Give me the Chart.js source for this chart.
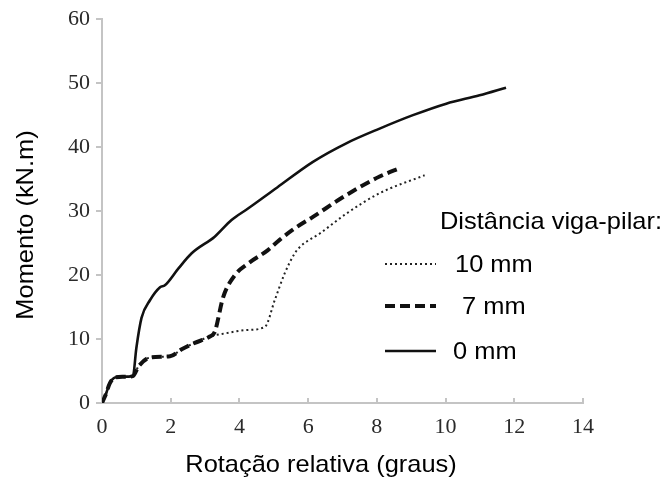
<!DOCTYPE html>
<html>
<head>
<meta charset="utf-8">
<script src="https://cdn.jsdelivr.net/npm/chart.js@4/dist/chart.umd.min.js"></script>
<style>
  html, body { margin: 0; padding: 0; background: #fff; }
  #wrap { width: 670px; height: 489px; position: relative; }
</style>
</head>
<body>
<div id="wrap"><canvas id="myChart"></canvas></div>
<script>
// rotação relativa (graus) x momento (kN.m)
const rot0 = [0, 0.1, 0.23, 0.38, 0.6, 0.9, 1.0, 1.15, 1.4, 1.69, 1.83, 2.22, 2.61, 3.28, 3.77, 4.25, 5.1, 6.14, 7.11, 8.08, 9.05, 10.02, 10.99, 11.76]
const mom0 = [0, 1.2, 3.1, 4.0, 4.1, 4.2, 8.6, 13.3, 16.1, 18.1, 18.4, 21.0, 23.4, 26.0, 28.6, 30.4, 33.7, 37.7, 40.6, 42.9, 45.0, 46.8, 48.1, 49.3]

const rot7 = [0, 0.1, 0.23, 0.38, 0.6, 0.9, 1.06, 1.4, 1.98, 2.32, 2.7, 3.14, 3.28, 3.53, 3.87, 4.25, 4.83, 5.17, 5.61, 6.14, 7.11, 8.08, 8.71]
const mom7 = [0, 1.2, 3.1, 4.0, 4.1, 4.2, 5.7, 7.1, 7.3, 8.4, 9.4, 10.4, 11.1, 16.6, 20.0, 21.8, 23.9, 25.5, 27.3, 29.1, 32.5, 35.4, 36.8]

const rot10 = [0, 0.1, 0.23, 0.38, 0.6, 0.9, 1.06, 1.4, 1.98, 2.32, 2.7, 3.14, 3.6, 4.2, 4.74, 5.03, 5.32, 5.61, 5.76, 6.34, 7.11, 8.08, 9.39]
const mom10 = [0, 1.2, 3.1, 4.0, 4.1, 4.2, 5.7, 7.1, 7.3, 8.4, 9.4, 10.4, 10.9, 11.4, 11.9, 16.1, 20.3, 23.4, 24.4, 26.5, 29.6, 32.8, 35.6]

const xTicks = [0, 2, 4, 6, 8, 10, 12, 14]
const yTicks = [0, 10, 20, 30, 40, 50, 60]
const labels = ['0 mm', ' 7 mm', '10 mm']
const xTitle = 'Rotação relativa (graus)'
const yTitle = 'Momento (kN.m)'
const legendTitle = 'Distância viga-pilar:'

const pairs = (xs, ys) => xs.map((x, i) => ({ x: x, y: ys[i] }))

const sansFont = '"Liberation Sans", Arial, sans-serif'
const serifFont = '"Liberation Serif", "Times New Roman", serif'
const axisGray = '#c4c4c4'

// texto um pouco esticado na horizontal, como no original
const wideText = (ctx, txt, x, y, sx) => {
  ctx.save()
  ctx.translate(x, y)
  ctx.scale(sx, 1)
  ctx.fillText(txt, 0, 0)
  ctx.restore()
}

// desenha titulos, legenda e ticks internos do eixo x
const extras = {
  id: 'extras',
  afterDraw(chart) {
    const ctx = chart.ctx
    const xs = chart.scales.x
    const area = chart.chartArea
    ctx.save()

    ctx.strokeStyle = axisGray
    ctx.lineWidth = 2
    xTicks.forEach(t => {
      if (t === 0) return
      const px = Math.round(xs.getPixelForValue(t))
      ctx.beginPath()
      ctx.moveTo(px, area.bottom)
      ctx.lineTo(px, area.bottom - 5)
      ctx.stroke()
    })

    ctx.fillStyle = '#000'
    ctx.font = '24px ' + sansFont
    ctx.textBaseline = 'middle'
    ctx.textAlign = 'center'
    wideText(ctx, xTitle, 321, 465, 1.06)
    ctx.save()
    ctx.translate(26, 225)
    ctx.rotate(-Math.PI / 2)
    wideText(ctx, yTitle, 0, 0, 1.06)
    ctx.restore()

    ctx.textAlign = 'left'
    wideText(ctx, legendTitle, 440, 222, 1.06)
    const rows = [
      { ds: chart.data.datasets[2], y: 264, tx: 455 },
      { ds: chart.data.datasets[1], y: 306, tx: 455 },
      { ds: chart.data.datasets[0], y: 351, tx: 453 }
    ]
    rows.forEach(r => {
      ctx.save()
      ctx.strokeStyle = r.ds.borderColor
      ctx.lineWidth = r.ds.borderWidth
      ctx.setLineDash(r.ds.borderDash || [])
      ctx.beginPath()
      ctx.moveTo(385, r.y)
      ctx.lineTo(436, r.y)
      ctx.stroke()
      ctx.restore()
      wideText(ctx, r.ds.label, r.tx, r.y + 1, 1.06)
    })
    ctx.restore()
  }
}

new Chart(document.getElementById('myChart'), {
  type: 'line',
  data: {
    datasets: [
      { label: labels[0], data: pairs(rot0, mom0), borderColor: '#111', borderWidth: 2.6, borderDash: [] },
      { label: labels[1], data: pairs(rot7, mom7), borderColor: '#111', borderWidth: 4, borderDash: [10, 5] },
      { label: labels[2], data: pairs(rot10, mom10), borderColor: '#222', borderWidth: 2, borderDash: [2, 3] }
    ]
  },
  options: {
    responsive: true,
    maintainAspectRatio: false,
    animation: false,
    layout: { padding: { left: 0, top: 19, right: 87, bottom: 0 } },
    elements: {
      point: { radius: 0 },
      line: { cubicInterpolationMode: 'monotone', borderCapStyle: 'butt' }
    },
    plugins: { legend: { display: false }, tooltip: { enabled: false } },
    scales: {
      x: {
        type: 'linear',
        min: 0,
        max: 14,
        afterFit(s) { s.height = 86 },
        afterBuildTicks(s) { s.ticks = xTicks.map(v => ({ value: v })) },
        grid: { display: false },
        border: { display: true, color: axisGray, width: 2 },
        ticks: { color: '#2a2a2a', padding: 3, font: { family: serifFont, size: 22 } }
      },
      y: {
        min: 0,
        max: 60,
        afterFit(s) { s.width = 102 },
        afterBuildTicks(s) { s.ticks = yTicks.map(v => ({ value: v })) },
        grid: { drawOnChartArea: false, drawTicks: true, tickLength: 6, color: axisGray, lineWidth: 2 },
        border: { display: true, color: axisGray, width: 2 },
        ticks: { color: '#2a2a2a', padding: 6, font: { family: serifFont, size: 22 } }
      }
    }
  },
  plugins: [extras]
})
</script>
</body>
</html>
